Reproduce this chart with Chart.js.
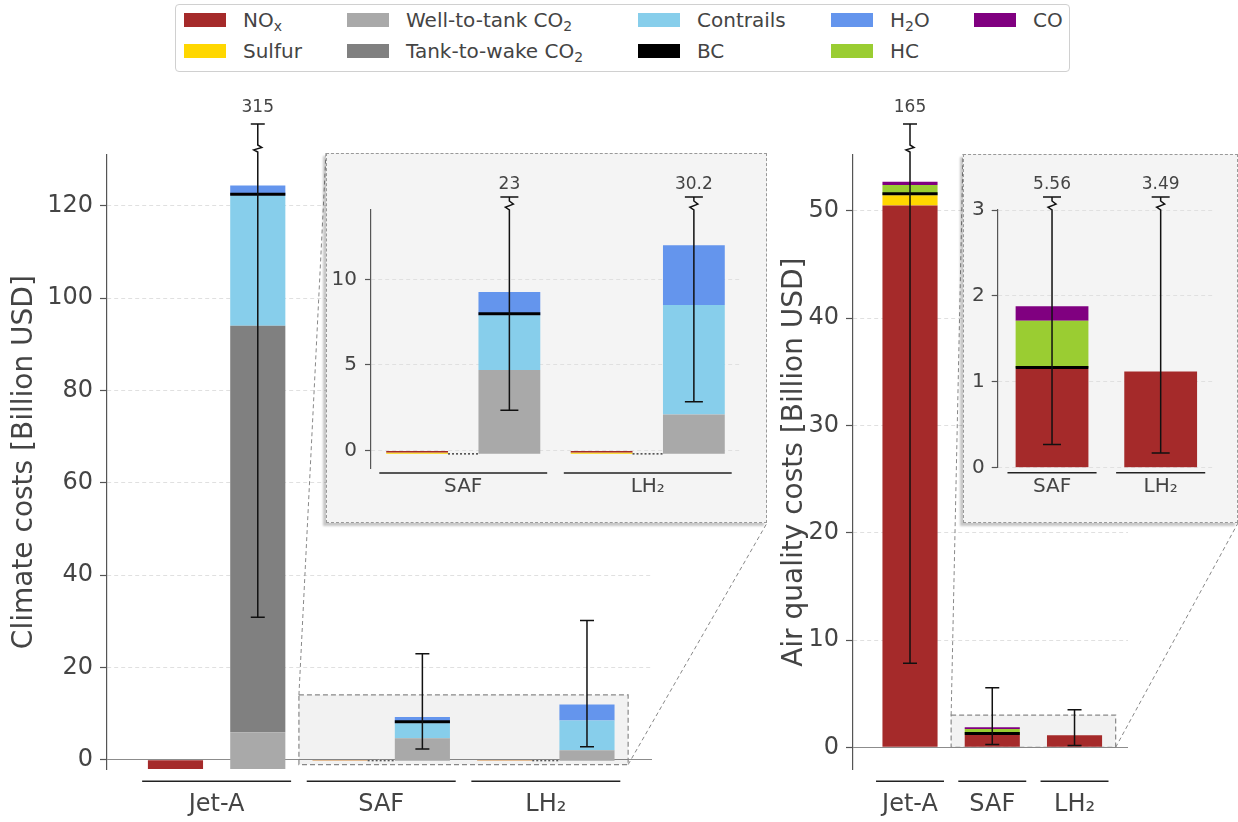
<!DOCTYPE html>
<html>
<head>
<meta charset="utf-8">
<script src="https://cdn.jsdelivr.net/npm/chart.js@4.4.0/dist/chart.umd.min.js"></script>
<style>
  html, body { margin: 0; padding: 0; background: #fff; }
  body { width: 1238px; height: 822px; position: relative; overflow: hidden; font-family: 'DejaVu Sans', sans-serif; }
  canvas { position: absolute; }
  .inset-box { position: absolute; background: #f4f4f4; border: 1px dashed #999; box-sizing: border-box; box-shadow: -3px 3px 2px rgba(0,0,0,0.22); }
  #legend { position: absolute; left: 175px; top: 4px; width: 895px; height: 68px; border: 1px solid #d0d0d0; border-radius: 4px; box-sizing: border-box; background: #fff; }
  .lg-item { position: absolute; height: 24px; display: flex; align-items: center; font-size: 20px; color: #444; white-space: nowrap; }
  .lg-sw { width: 42px; height: 14px; margin-right: 17px; }
  .lg-item sub { font-size: 0.7em; vertical-align: -0.3em; line-height: 0; }
</style>
</head>
<body>
<div id="legend"></div>
<canvas id="climMain"></canvas>
<canvas id="aqMain"></canvas>
<div class="inset-box" id="climBox"></div>
<div class="inset-box" id="aqBox"></div>
<canvas id="climInset"></canvas>
<canvas id="aqInset"></canvas>
<script>
// fuels, left to right
const fuels = ['Jet-A', 'SAF', 'LH₂'];

// climate costs [billion USD], per fuel
const climNox = [-2.0, -0.12, -0.12];
const climSulfur = [0, -0.08, -0.08];
const climWtt = [8.0, 4.9, 2.3];
const climTtw = [88.0, 0, 0];
const climContrails = [28.2, 3.2, 6.4];
const climBc = [0.01, 0.01, 0];
const climH2o = [2.2, 1.35, 3.5];
const climErrLow = [30.9, 2.35, 2.84];
const climErrHigh = [315, 23, 30.2];
const climLinkFuels = [1, 2]; // dotted link between the two bars

// air quality costs [billion USD], per fuel
const aqNox = [50.5, 1.15, 1.12];
const aqSulfur = [0.95, 0, 0];
const aqBc = [0.01, 0.01, 0];
const aqHc = [0.95, 0.55, 0];
const aqCo = [0.3, 0.17, 0];
const aqErrLow = [7.83, 0.27, 0.17];
const aqErrHigh = [165, 5.56, 3.49];

// tick labels
const climTicks = [0, 20, 40, 60, 80, 100, 120];
const climInsetTicks = [0, 5, 10];
const aqTicks = [0, 10, 20, 30, 40, 50];
const aqInsetTicks = [0, 1, 2, 3];

const FONT = "'DejaVu Sans', sans-serif";
const TEXT = '#444';

const colors = {
    nox: '#a52a2a', sulfur: '#ffd700', wtt: '#a9a9a9', ttw: '#808080',
    contrails: '#87ceeb', bc: '#000000', h2o: '#6495ed', hc: '#9acd32', co: '#800080'
};
const legendItems = [
    ['nox', 'NO<sub>x</sub>'], ['sulfur', 'Sulfur'],
    ['wtt', 'Well-to-tank CO<sub>2</sub>'], ['ttw', 'Tank-to-wake CO<sub>2</sub>'],
    ['contrails', 'Contrails'], ['bc', 'BC'],
    ['h2o', 'H<sub>2</sub>O'], ['hc', 'HC'],
    ['co', 'CO']
];

// page layout (pixels)
const boxes = {
    climMain: {left: 0, top: 90, w: 780, h: 732},
    aqMain: {left: 760, top: 90, w: 478, h: 732},
    climInset: {left: 326, top: 153, w: 441, h: 370},
    aqInset: {left: 963, top: 154, w: 275, h: 369}
};

// legend
const legendCols = [8, 171, 462, 655, 798];
const legendRows = [16, 47];
const legendEl = document.getElementById('legend');
legendItems.forEach(([key, html], i) => {
    const d = document.createElement('div');
    d.className = 'lg-item';
    d.style.left = legendCols[Math.floor(i / 2)] + 'px';
    d.style.top = (legendRows[i % 2] - 13) + 'px';
    d.innerHTML = '<span class="lg-sw" style="background:' + colors[key] + '"></span><span>' + html + '</span>';
    legendEl.appendChild(d);
});

['climInset', 'aqInset'].forEach((k, i) => {
    const el = document.getElementById(['climBox', 'aqBox'][i]);
    const b = boxes[k];
    el.style.left = b.left + 'px'; el.style.top = b.top + 'px';
    el.style.width = b.w + 'px'; el.style.height = b.h + 'px';
});

function barDataset(key, data) {
    return {
        type: 'bar', label: key, data: data,
        backgroundColor: colors[key], borderWidth: 0,
        grouped: false, categoryPercentage: 1, barPercentage: 0.67,
        minBarLength: key === 'bc' ? 3 : 0,
        order: key === 'bc' ? 1 : 2
    };
}

// climate: bar 1 = NOx + sulfur, bar 2 = CO2 + contrails + BC + H2O
function climateDatasets(idx, pos1, pos2) {
    const seg = {nox: [], sulfur: [], wtt: [], ttw: [], contrails: [], bc: [], h2o: []};
    const link = [];
    idx.forEach((i, k) => {
        const n = climNox[i], s = climSulfur[i];
        if (n) seg.nox.push({x: pos1(k), y: [0, n]});
        if (s) seg.sulfur.push({x: pos1(k), y: [n, n + s]});
        let b = n + s;
        if (climLinkFuels.includes(i)) {
            link.push({x: pos1(k) + 0.335, y: b}, {x: pos2(k) - 0.335, y: b}, {x: pos2(k), y: null});
        }
        [['wtt', climWtt], ['ttw', climTtw], ['contrails', climContrails], ['bc', climBc], ['h2o', climH2o]].forEach(([key, arr]) => {
            if (arr[i]) seg[key].push({x: pos2(k), y: [b, b + arr[i]]});
            b += arr[i];
        });
    });
    const ds = Object.keys(seg).filter(k => seg[k].length).map(k => barDataset(k, seg[k]));
    if (link.length) {
        ds.push({type: 'line', data: link, borderColor: '#222', borderWidth: 1.2, borderDash: [2, 2],
            pointRadius: 0, spanGaps: false, order: 0});
    }
    return ds;
}

function aqDatasets(idx, pos) {
    const seg = {nox: [], sulfur: [], bc: [], hc: [], co: []};
    idx.forEach((i, k) => {
        let b = 0;
        [['nox', aqNox], ['sulfur', aqSulfur], ['bc', aqBc], ['hc', aqHc], ['co', aqCo]].forEach(([key, arr]) => {
            if (arr[i]) seg[key].push({x: pos(k), y: [b, b + arr[i]]});
            b += arr[i];
        });
    });
    return Object.keys(seg).filter(k => seg[k].length).map(k => barDataset(k, seg[k]));
}

function yScale(o) {
    const zero = c => o.solidZero && c.tick && c.tick.value === 0;
    return {
        type: 'linear', min: o.min, max: o.max,
        afterBuildTicks: s => { s.ticks = o.ticks.map(v => ({value: v})); },
        afterFit: s => { s.width = o.width; },
        ticks: {font: {family: FONT, size: o.font}, color: TEXT, padding: o.pad},
        grid: {
            color: c => zero(c) ? '#8c8c8c' : '#e0e0e0', lineWidth: 1,
            drawTicks: true, tickLength: o.tickLen, tickColor: '#555', tickWidth: 1.2, tickBorderDash: []
        },
        border: {display: true, color: '#555', width: 1.2, dash: c => zero(c) ? [] : [4, 3]},
        title: o.title ? {display: true, text: o.title, font: {family: FONT, size: 28}, color: TEXT,
            padding: {top: o.titlePad, bottom: 0}} : {display: false}
    };
}

function xScale(o) {
    return {
        type: 'linear', min: o.min, max: o.max, offset: false,
        afterBuildTicks: s => { s.ticks = o.ticks.map(v => ({value: v})); },
        afterFit: s => { s.height = o.height; },
        ticks: {callback: (v, i) => o.labels[i], font: {family: FONT, size: o.font}, color: TEXT,
            padding: o.pad, maxRotation: 0, minRotation: 0, autoSkip: false},
        grid: {display: false, drawTicks: false, offset: false},
        border: {display: false}
    };
}

// error bars, group underlines, zoom box and connector lines
function decorPlugin(o) {
    return {
        id: 'decor',
        beforeDatasetsDraw(chart) {
            if (!o.zoom) return;
            const {ctx, scales: {x, y}} = chart;
            const x0 = x.getPixelForValue(o.zoom.x0), x1 = x.getPixelForValue(o.zoom.x1);
            const y0 = y.getPixelForValue(o.zoom.y0), y1 = y.getPixelForValue(o.zoom.y1);
            ctx.save();
            ctx.fillStyle = 'rgba(0,0,0,0.05)';
            ctx.fillRect(x0, y1, x1 - x0, y0 - y1);
            ctx.strokeStyle = '#888'; ctx.lineWidth = 1.2; ctx.setLineDash([5, 3]);
            ctx.strokeRect(x0, y1, x1 - x0, y0 - y1);
            ctx.restore();
        },
        afterDatasetsDraw(chart) {
            const {ctx, scales: {x, y}, chartArea} = chart;
            ctx.save();
            // underlines below group labels
            ctx.strokeStyle = '#222'; ctx.lineWidth = 1.5;
            o.groups.forEach(g => {
                ctx.beginPath();
                ctx.moveTo(x.getPixelForValue(g - o.groupHalf), chartArea.bottom + o.lineOff);
                ctx.lineTo(x.getPixelForValue(g + o.groupHalf), chartArea.bottom + o.lineOff);
                ctx.stroke();
            });
            // error bars
            ctx.strokeStyle = '#111'; ctx.lineWidth = 1.5;
            ctx.fillStyle = TEXT; ctx.font = '17px ' + FONT;
            ctx.textAlign = 'center'; ctx.textBaseline = 'middle';
            o.err.x.forEach((xv, k) => {
                const px = x.getPixelForValue(xv);
                const pLo = y.getPixelForValue(o.err.lo[k]);
                const c = o.cap;
                ctx.beginPath();
                ctx.moveTo(px - c, pLo); ctx.lineTo(px + c, pLo);
                if (o.err.hi[k] <= y.max) {
                    const pHi = y.getPixelForValue(o.err.hi[k]);
                    ctx.moveTo(px, pLo); ctx.lineTo(px, pHi);
                    ctx.moveTo(px - c, pHi); ctx.lineTo(px + c, pHi);
                    ctx.stroke();
                } else {
                    const z = chartArea.top - o.brk.zz;
                    const h = o.brk.zzH;
                    const capY = chartArea.top - o.brk.cap;
                    ctx.moveTo(px, pLo); ctx.lineTo(px, z);
                    ctx.lineTo(px - 4, z - h * 0.3);
                    ctx.lineTo(px + 4, z - h * 0.65);
                    ctx.lineTo(px, z - h);
                    ctx.lineTo(px, capY);
                    ctx.moveTo(px - c, capY); ctx.lineTo(px + c, capY);
                    ctx.stroke();
                    ctx.fillText(String(o.err.hi[k]), px, chartArea.top - o.brk.label);
                }
            });
            ctx.restore();
        },
        afterDraw(chart) {
            if (!o.connect) return;
            const {ctx, scales: {x, y}} = chart;
            ctx.save();
            ctx.strokeStyle = '#888'; ctx.lineWidth = 1; ctx.setLineDash([4, 3]);
            o.connect.forEach(cn => {
                ctx.beginPath();
                ctx.moveTo(x.getPixelForValue(cn.x), y.getPixelForValue(cn.y));
                ctx.lineTo(cn.px - o.box.left, cn.py - o.box.top);
                ctx.stroke();
            });
            ctx.restore();
        }
    };
}

function makeChart(id, datasets, scales, padding, plugin) {
    const b = boxes[id];
    const c = document.getElementById(id);
    c.width = b.w; c.height = b.h;
    c.style.left = b.left + 'px'; c.style.top = b.top + 'px';
    return new Chart(c, {
        data: {datasets: datasets},
        options: {
            responsive: false, devicePixelRatio: 1, animation: false,
            layout: {padding: padding},
            plugins: {legend: {display: false}, tooltip: {enabled: false}},
            scales: scales
        },
        plugins: [plugin]
    });
}

const climInsetY = {min: -1.03, max: 14.06};
const aqInsetY = {min: 0, max: 3};
const cI = boxes.climInset, aI = boxes.aqInset;

// climate, main
makeChart('climMain',
    climateDatasets([0, 1, 2], k => 2 * k, k => 2 * k + 1),
    {
        x: xScale({min: -0.832, max: 5.79, ticks: [0.5, 2.5, 4.5], labels: fuels, height: 52.7, font: 24, pad: 21}),
        y: yScale({min: -2.05, max: 131, ticks: climTicks, width: 107, font: 24, pad: 7, tickLen: 7,
            solidZero: true, title: 'Climate costs [Billion USD]', titlePad: 8})
    },
    {top: 65, right: 128, bottom: 0, left: 0},
    decorPlugin({
        box: boxes.climMain, groups: [0.5, 2.5, 4.5], groupHalf: 0.905, lineOff: 12, cap: 7,
        err: {x: [1, 3, 5], lo: climErrLow, hi: climErrHigh},
        brk: {zz: 3, zzH: 7, cap: 31, label: 47},
        zoom: {x0: 1.5, x1: 5.5, y0: climInsetY.min, y1: climInsetY.max},
        connect: [
            {x: 1.5, y: climInsetY.max, px: cI.left, py: cI.top},
            {x: 5.5, y: climInsetY.min, px: cI.left + cI.w, py: cI.top + cI.h}
        ]
    })
);

// air quality, main
makeChart('aqMain',
    aqDatasets([0, 1, 2], k => k),
    {
        x: xScale({min: -0.693, max: 2.65, ticks: [0, 1, 2], labels: fuels, height: 52.7, font: 24, pad: 21}),
        y: yScale({min: -2.05, max: 55.2, ticks: aqTicks, width: 93, font: 24, pad: 7, tickLen: 7,
            solidZero: true, title: 'Air quality costs [Billion USD]', titlePad: 18})
    },
    {top: 65, right: 110, bottom: 0, left: 0},
    decorPlugin({
        box: boxes.aqMain, groups: [0, 1, 2], groupHalf: 0.413, lineOff: 12, cap: 7,
        err: {x: [0, 1, 2], lo: aqErrLow, hi: aqErrHigh},
        brk: {zz: 3, zzH: 7, cap: 31, label: 47},
        zoom: {x0: 0.5, x1: 2.5, y0: aqInsetY.min, y1: aqInsetY.max},
        connect: [
            {x: 0.5, y: aqInsetY.max, px: aI.left, py: aI.top},
            {x: 2.5, y: aqInsetY.min, px: aI.left + aI.w, py: aI.top + aI.h}
        ]
    })
);

// climate, inset (SAF and LH2)
makeChart('climInset',
    climateDatasets([1, 2], k => 2 * k, k => 2 * k + 1),
    {
        x: xScale({min: -0.5, max: 3.5, ticks: [0.5, 2.5], labels: fuels.slice(1), height: 55, font: 20, pad: 7}),
        y: yScale({min: climInsetY.min, max: climInsetY.max, ticks: climInsetTicks, width: 45, font: 20, pad: 8, tickLen: 6,
            solidZero: false})
    },
    {top: 57, right: 27, bottom: 0, left: 0},
    decorPlugin({
        box: cI, groups: [0.5, 2.5], groupHalf: 0.91, lineOff: 5, cap: 9,
        err: {x: [1, 3], lo: climErrLow.slice(1), hi: climErrHigh.slice(1)},
        brk: {zz: 0, zzH: 9, cap: 13, label: 25}
    })
);

// air quality, inset (SAF and LH2)
makeChart('aqInset',
    aqDatasets([1, 2], k => k),
    {
        x: xScale({min: -0.5, max: 1.5, ticks: [0, 1], labels: fuels.slice(1), height: 55.3, font: 20, pad: 7}),
        y: yScale({min: aqInsetY.min, max: aqInsetY.max, ticks: aqInsetTicks, width: 34.7, font: 20, pad: 7, tickLen: 6,
            solidZero: false})
    },
    {top: 56, right: 23, bottom: 0, left: 0},
    decorPlugin({
        box: aI, groups: [0, 1], groupHalf: 0.41, lineOff: 5, cap: 9,
        err: {x: [0, 1], lo: aqErrLow.slice(1), hi: aqErrHigh.slice(1)},
        brk: {zz: 0, zzH: 9, cap: 13, label: 25}
    })
);
</script>
</body>
</html>
